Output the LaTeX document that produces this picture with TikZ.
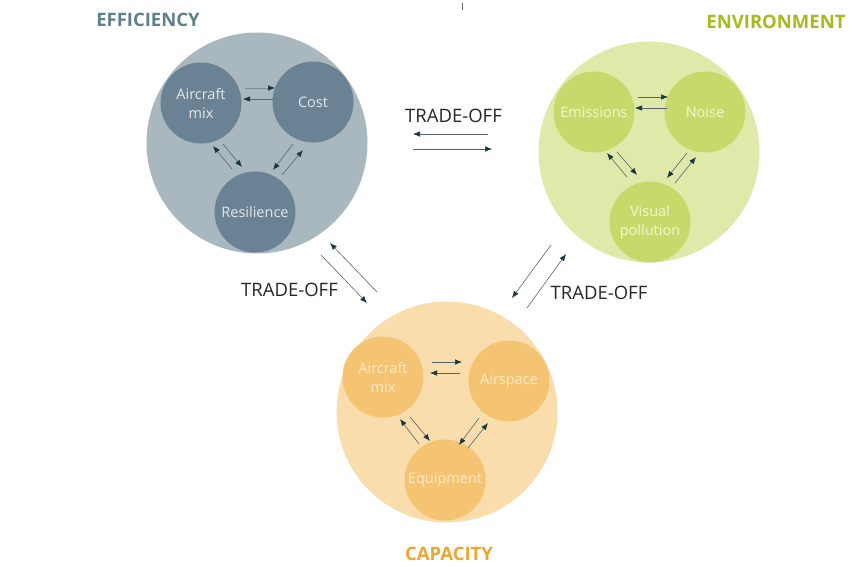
\documentclass[tikz,border=0pt]{standalone}
\usepackage{fontspec}
\setmainfont{Open Sans}
\usetikzlibrary{arrows.meta,calc}

% palette
\definecolor{effbig}{HTML}{A9B8BE}
\definecolor{effin}{HTML}{6A8294}
\definecolor{efftxt}{HTML}{E2E8EC}
\definecolor{efftitle}{HTML}{5E808A}
\definecolor{envbig}{HTML}{DFE9A9}
\definecolor{envin}{HTML}{C8D96B}
\definecolor{envtxt}{HTML}{F4F8CF}
\definecolor{envtitle}{HTML}{A6BB1E}
\definecolor{capbig}{HTML}{F9DDAC}
\definecolor{capin}{HTML}{F4C472}
\definecolor{captxt}{HTML}{FCEBC8}
\definecolor{captitle}{HTML}{EFA62E}
\definecolor{arrline}{HTML}{56666C}
\definecolor{arrhead}{HTML}{163640}

% one arrow: tail offset from its start node, tip offset from its end node
\newcommand\tolink[5][]{\draw[link,#1] ($(#2)+#3$) -- ($(#4)+#5$);}

\begin{document}
\begin{tikzpicture}[x=1pt,y=-1pt,
  group/.style={circle, inner sep=0pt, minimum size=221pt},
  topic/.style={circle, inner sep=0pt, minimum size=81pt, align=center,
    font=\fontsize{14.5}{19}\selectfont},
  title/.style={font=\fontsize{18.5}{22}\selectfont\bfseries},
  tradelabel/.style={font=\fontsize{18.5}{22}\selectfont, text=black!85},
  link/.style={draw=arrline, line width=0.6pt,
    -{Latex[length=7pt,width=5.5pt,color=arrhead]}}]

\fill[white] (0,0) rectangle (854,566);
\useasboundingbox (0,0) rectangle (854,566);

% stray tick at the top
\draw[line width=1pt, black!60] (462,2.5) -- (462,10);

% --- the three groups ---
\node[group, fill=effbig] (eff) at (257,143) {};
\node[group, fill=envbig] (env) at (649,152) {};
\node[group, fill=capbig] (cap) at (447,412) {};

% efficiency topics
\node[topic, fill=effin, text=efftxt] (fmix)  at (201,103) {Aircraft\\mix};
\node[topic, fill=effin, text=efftxt] (fcost) at (313,102) {Cost};
\node[topic, fill=effin, text=efftxt] (fres)  at (255,212) {Resilience};

% environment topics
\node[topic, fill=envin, text=envtxt] (vemi) at (594,112) {Emissions};
\node[topic, fill=envin, text=envtxt] (vnoi) at (705,112) {Noise};
\node[topic, fill=envin, text=envtxt] (vvis) at (650,222) {Visual\\pollution};

% capacity topics
\node[topic, fill=capin, text=captxt] (cmix) at (383,377) {Aircraft\\mix};
\node[topic, fill=capin, text=captxt] (cair) at (509,381) {Airspace};
\node[topic, fill=capin, text=captxt] (cequ) at (445,480) {Equipment};

% --- links inside efficiency ---
\tolink[draw=effbig!45!arrline]{fmix}{(44,-15)}{fcost}{(-38,-14)}
\tolink{fcost}{(-40,-3)}{fmix}{(42,-4)}
\tolink{fmix}{(22,41)}{fres}{(-13,-45)}
\tolink{fres}{(-23,-43)}{fmix}{(12,43)}
\tolink{fcost}{(-20,42)}{fres}{(18,-42)}
\tolink{fres}{(27,-37)}{fcost}{(-10,48)}

% --- links inside environment ---
\tolink{vemi}{(44,-15)}{vnoi}{(-37,-15)}
\tolink{vnoi}{(-38,-4)}{vemi}{(41,-4)}
\tolink{vemi}{(23,40)}{vvis}{(-13,-47)}
\tolink{vvis}{(-23,-45)}{vemi}{(13,41)}
\tolink{vnoi}{(-18,41)}{vvis}{(17,-44)}
\tolink{vvis}{(25,-39)}{vnoi}{(-9,45)}

% --- links inside capacity ---
\tolink{cmix}{(49,-15)}{cair}{(-47,-19)}
\tolink{cair}{(-49,-8)}{cmix}{(47,-4)}
\tolink{cmix}{(27,40)}{cequ}{(-15,-39)}
\tolink{cequ}{(-26,-36)}{cmix}{(17,42)}
\tolink{cair}{(-30,37)}{cequ}{(14,-35)}
\tolink{cequ}{(23,-32)}{cair}{(-21,42)}

% --- trade-offs between the groups ---
\tolink{env}{(-161,-18)}{eff}{(156,-9)}
\tolink{eff}{(156,6)}{env}{(-157,-3)}
\tolink{cap}{(-70,-120)}{eff}{(73,100)}
\tolink{eff}{(64,112)}{cap}{(-80,-109)}
\tolink{env}{(-98,93)}{cap}{(65,-114)}
\tolink{cap}{(80,-104)}{env}{(-83,102)}

\node[tradelabel] (tTop)   at (453.5,115.5) {TRADE-OFF};
\node[tradelabel] (tLeft)  at (289.5,289.5) {TRADE-OFF};
\node[tradelabel] (tRight) at (599,292.5)   {TRADE-OFF};

% --- group titles ---
\node[title, text=efftitle] (effTitle) at (148,20)    {EFFICIENCY};
\node[title, text=envtitle] (envTitle) at (776,21.5)  {ENVIRONMENT};
\node[title, text=captitle] (capTitle) at (449,553.5) {CAPACITY};

\end{tikzpicture}
\end{document}
